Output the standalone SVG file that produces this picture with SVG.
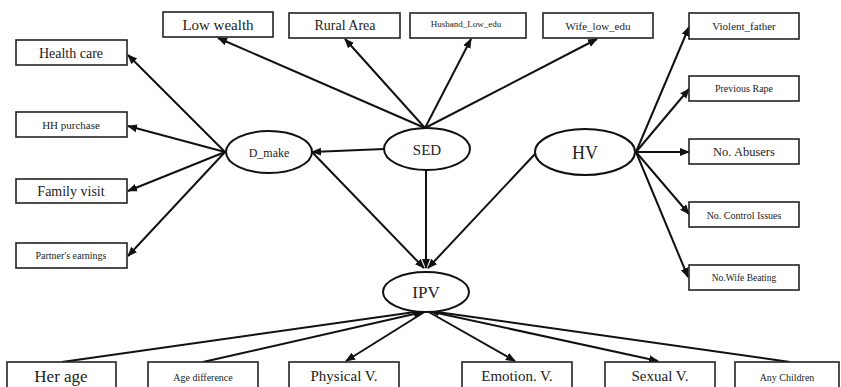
<svg xmlns="http://www.w3.org/2000/svg" width="841" height="387" viewBox="0 0 841 387">
<defs>
<marker id="ah" markerUnits="userSpaceOnUse" markerWidth="10" markerHeight="10" viewBox="0 0 10 10" refX="9" refY="5" orient="auto">
<path d="M0,1 L10,5 L0,9 Z" fill="#111"/>
</marker>
</defs>
<style>
.b{fill:#fff;stroke:#222;stroke-width:1.6}
ellipse{fill:#fff;stroke:#111;stroke-width:2}
text{fill:#222;text-anchor:middle;font-family:Liberation Serif,DejaVu Serif,serif}
.c line{stroke:#111;stroke-width:2}
.a{marker-end:url(#ah)}
</style>
<rect width="841" height="387" fill="#fff"/>
<g class="c" id="connectors">
<line class="a" x1="225" y1="152" x2="128" y2="55"/>
<line class="a" x1="225" y1="152" x2="128" y2="126"/>
<line class="a" x1="225" y1="152" x2="128" y2="191"/>
<line class="a" x1="225" y1="152" x2="128" y2="256"/>
<line class="a" x1="384" y1="149" x2="312" y2="152"/>
<line class="a" x1="425" y1="128" x2="218" y2="38"/>
<line class="a" x1="425" y1="128" x2="345" y2="39"/>
<line class="a" x1="425" y1="128" x2="471" y2="39"/>
<line class="a" x1="425" y1="128" x2="597" y2="39"/>
<line class="a" x1="426" y1="169" x2="426" y2="268"/>
<line class="a" x1="312" y1="152" x2="424" y2="268"/>
<line class="a" x1="535" y1="154" x2="428" y2="268"/>
<line class="a" x1="636" y1="152" x2="689" y2="27"/>
<line class="a" x1="636" y1="152" x2="689" y2="89"/>
<line class="a" x1="636" y1="152" x2="689" y2="152"/>
<line class="a" x1="636" y1="152" x2="689" y2="214"/>
<line class="a" x1="636" y1="152" x2="688" y2="277"/>
<line class="a" x1="62" y1="362" x2="422" y2="311"/>
<line class="a" x1="203" y1="362" x2="423" y2="312"/>
<line class="a" x1="426" y1="311" x2="346" y2="361"/>
<line class="a" x1="427" y1="311" x2="515" y2="361"/>
<line class="a" x1="428" y1="311" x2="658" y2="361"/>
<line class="a" x1="790" y1="362" x2="430" y2="311"/>
</g>
<g id="health_care"><rect class="b" x="16" y="40" width="111" height="25"/><text x="71" y="58" font-size="14">Health care</text></g>
<g id="hh_purchase"><rect class="b" x="16" y="112" width="111" height="25"/><text x="71" y="129" font-size="11">HH purchase</text></g>
<g id="family_visit"><rect class="b" x="16" y="179" width="111" height="24"/><text x="71" y="196" font-size="14">Family visit</text></g>
<g id="partners_earnings"><rect class="b" x="16" y="243" width="111" height="25"/><text x="71" y="259" font-size="10">Partner's earnings</text></g>
<g id="low_wealth"><rect class="b" x="163" y="12" width="110" height="25"/><text x="218" y="30" font-size="15">Low wealth</text></g>
<g id="rural_area"><rect class="b" x="289" y="13" width="111" height="25"/><text x="345" y="30" font-size="14">Rural Area</text></g>
<g id="husband_low_edu"><rect class="b" x="410" y="13" width="116" height="25"/><text x="466" y="27" font-size="9">Husband_Low_edu</text></g>
<g id="wife_low_edu"><rect class="b" x="543" y="13" width="110" height="25"/><text x="598" y="30" font-size="11">Wife_low_edu</text></g>
<g id="violent_father"><rect class="b" x="689" y="13" width="110" height="26"/><text x="744" y="30" font-size="11">Violent_father</text></g>
<g id="previous_rape"><rect class="b" x="689" y="76" width="110" height="25"/><text x="744" y="92" font-size="10">Previous Rape</text></g>
<g id="no_abusers"><rect class="b" x="689" y="139" width="110" height="25"/><text x="744" y="156" font-size="12.5">No. Abusers</text></g>
<g id="no_control_issues"><rect class="b" x="689" y="202" width="110" height="25"/><text x="744" y="219" font-size="10">No. Control Issues</text></g>
<g id="no_wife_beating"><rect class="b" x="689" y="265" width="110" height="25"/><text x="744" y="281" font-size="9.5">No.Wife Beating</text></g>
<g id="her_age"><rect class="b" x="7" y="362" width="109" height="30"/><text x="61" y="382" font-size="17">Her age</text></g>
<g id="age_difference"><rect class="b" x="148" y="362" width="110" height="30"/><text x="203" y="381" font-size="10">Age difference</text></g>
<g id="physical_v"><rect class="b" x="289" y="362" width="110" height="30"/><text x="344" y="381" font-size="15">Physical V.</text></g>
<g id="emotion_v"><rect class="b" x="462" y="362" width="110" height="30"/><text x="517" y="381" font-size="15">Emotion. V.</text></g>
<g id="sexual_v"><rect class="b" x="605" y="362" width="110" height="30"/><text x="660" y="381" font-size="15">Sexual V.</text></g>
<g id="any_children"><rect class="b" x="735" y="362" width="104" height="30"/><text x="787" y="381" font-size="10">Any Children</text></g>
<g id="d_make"><ellipse cx="269" cy="152" rx="43" ry="21"/><text x="269" y="157" font-size="12">D_make</text></g>
<g id="sed"><ellipse cx="427" cy="149" rx="43" ry="21"/><text x="427" y="155" font-size="15">SED</text></g>
<g id="hv"><ellipse cx="585" cy="152" rx="50" ry="23"/><text x="585" y="159" font-size="18">HV</text></g>
<g id="ipv"><ellipse cx="426" cy="292" rx="43" ry="20"/><text x="426" y="298" font-size="17">IPV</text></g>
</svg>
